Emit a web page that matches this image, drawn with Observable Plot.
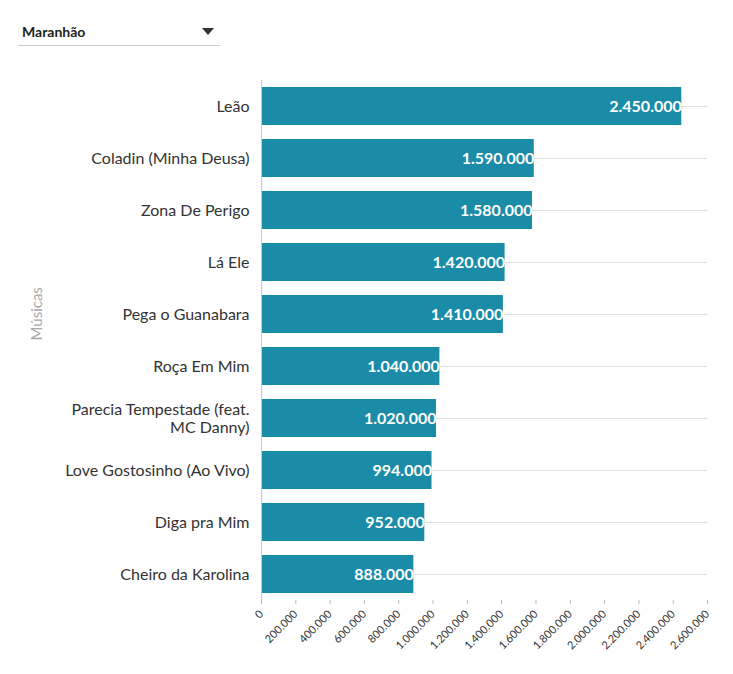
<!DOCTYPE html>
<html><head><meta charset="utf-8">
<script src="https://cdn.jsdelivr.net/npm/d3@7"></script>
<script src="https://cdn.jsdelivr.net/npm/@observablehq/plot@0.6"></script>
<style>
body{margin:0;font-family:Lato,"Noto Sans",sans-serif;background:#fff;}
#dd{position:absolute;left:18px;top:20px;width:202px;height:25px;border-bottom:1px solid #ccc;font-size:14px;font-weight:bold;color:#222;}
#dd span{position:absolute;left:4px;top:3px;}
#dd i{position:absolute;right:6px;top:8px;width:0;height:0;border-left:6px solid transparent;border-right:6px solid transparent;border-top:7px solid #333;}
#chart{position:absolute;left:0;top:60px;}
</style></head><body>
<div id="dd"><span>Maranhão</span><i></i></div>
<div id="chart"></div>
<script>
const songs=["Leão","Coladin (Minha Deusa)","Zona De Perigo","Lá Ele","Pega o Guanabara","Roça Em Mim","Parecia Tempestade (feat. MC Danny)","Love Gostosinho (Ao Vivo)","Diga pra Mim","Cheiro da Karolina"];
const plays=[2450000,1590000,1580000,1420000,1410000,1040000,1020000,994000,952000,888000];
const xTicks=[0,200000,400000,600000,800000,1000000,1200000,1400000,1600000,1800000,2000000,2200000,2400000,2600000];
const data=songs.map((s,i)=>({song:s,v:plays[i]}));
const fmt=d=>d3.format(",")(d).replace(/,/g,".");
const wrap=s=>s==="Parecia Tempestade (feat. MC Danny)"?"Parecia Tempestade (feat.\nMC Danny)":s;
const chart=Plot.plot({
  width:733,height:614,marginLeft:261,marginRight:26,marginTop:20,marginBottom:74,
  style:{fontFamily:"Lato, 'Noto Sans', sans-serif"},
  x:{domain:[0,2600000],ticks:xTicks,tickFormat:fmt,tickRotate:-45,label:null},
  y:{domain:songs,paddingInner:0.27,paddingOuter:0.135,label:null},
  marks:[
    Plot.gridY({stroke:"#ddd",strokeOpacity:1}),
    Plot.barX(data,{x:"v",y:"song",fill:"#1a8ca8"}),
    Plot.ruleX([0],{stroke:"#ccc"}),
    Plot.axisX({ticks:xTicks,tickFormat:fmt,tickRotate:-45,fontSize:11,fill:"#333",stroke:"#bbb",tickSize:4,label:null}),
    Plot.axisY({tickFormat:wrap,fontSize:16,fill:"#333",tickSize:0,tickPadding:12,lineHeight:1.1,label:null}),
    Plot.text(data,{x:"v",y:"song",text:d=>fmt(d.v),textAnchor:"end",dx:0,fill:"white",fontWeight:"bold",fontSize:16}),
    Plot.text(["Músicas"],{frameAnchor:"left",dx:-224,rotate:-90,fill:"#aaa",fontSize:15})
  ]
});
document.getElementById("chart").append(chart);
</script></body></html>
